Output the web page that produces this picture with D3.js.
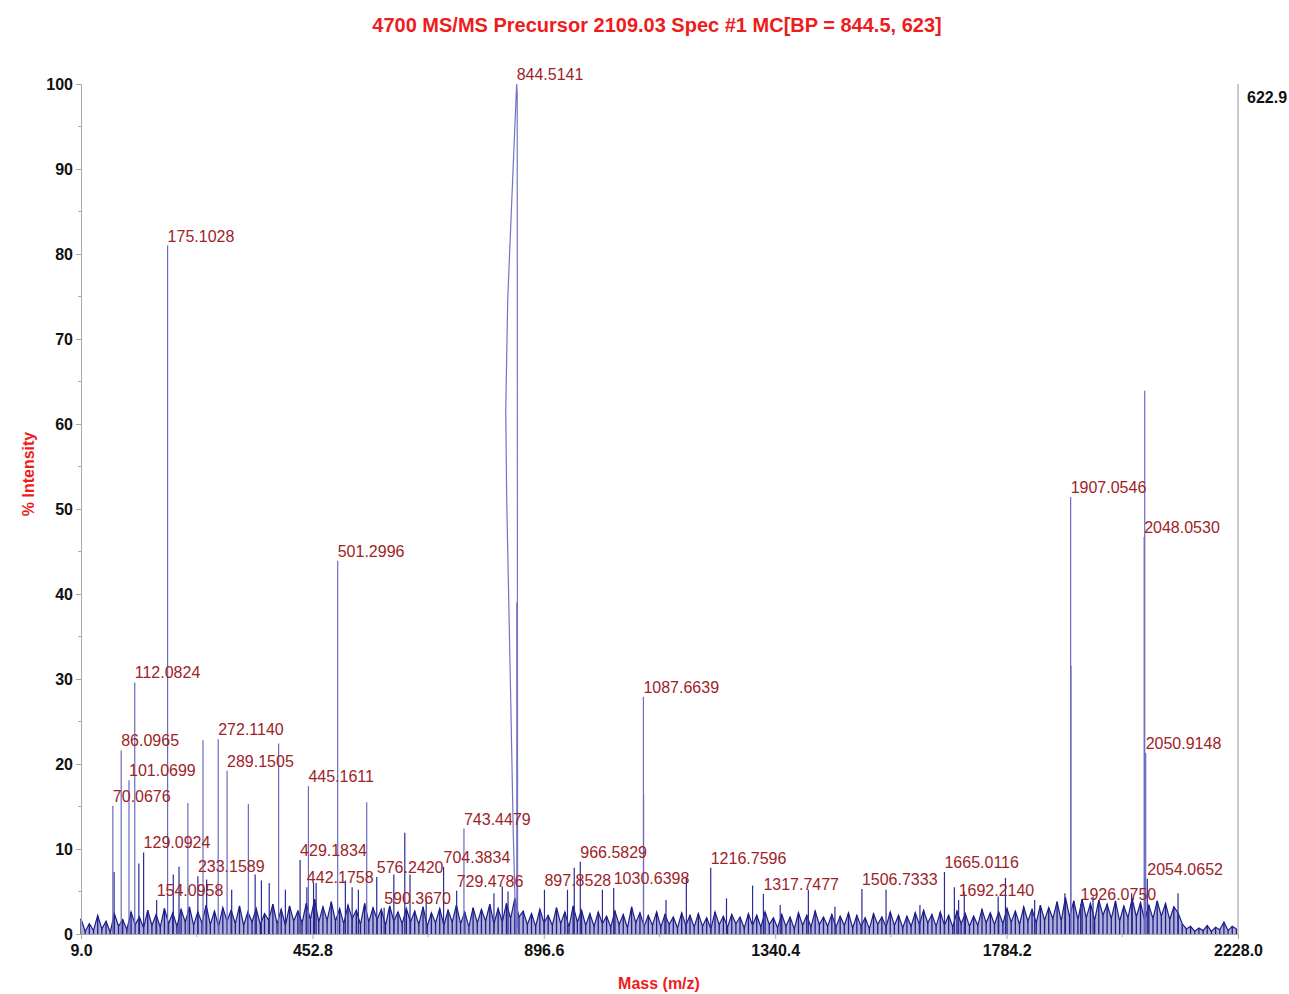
<!DOCTYPE html>
<html>
<head>
<meta charset="utf-8">
<script src="https://cdn.jsdelivr.net/npm/d3@7"></script>
<style>
  body { margin: 0; background: #fff; }
  svg { display: block; font-family: "Liberation Sans", Arial, sans-serif; }
</style>
</head>
<body>
<svg id="chart" width="1289" height="994"></svg>
<script>
// ---- data ----
const xTicks = [9.0, 452.8, 896.6, 1340.4, 1784.2, 2228.0];
const yTicks = [0, 10, 20, 30, 40, 50, 60, 70, 80, 90, 100];

// labelled peaks [m/z, % intensity]
const labeledPeaks = [
  [70.0676, 15.1], [86.0965, 21.6], [101.0699, 18.1], [112.0824, 29.6],
  [129.0924, 9.6], [154.0958, 4.0], [175.1028, 81.0], [233.1589, 6.8],
  [272.1140, 22.9], [289.1505, 19.2], [429.1834, 8.7], [442.1758, 5.5],
  [445.1611, 17.4], [501.2996, 43.9], [576.2420, 6.7], [590.3670, 3.1],
  [704.3834, 7.9], [729.4786, 5.1], [743.4479, 12.4], [844.5141, 100],
  [897.8528, 5.2], [966.5829, 8.5], [1030.6398, 5.4], [1087.6639, 27.9],
  [1216.7596, 7.8], [1317.7477, 4.7], [1506.7333, 5.3], [1665.0116, 7.3],
  [1692.2140, 4.0], [1907.0546, 51.4], [1926.0750, 3.5], [2048.0530, 46.7],
  [2050.9148, 21.3], [2054.0652, 6.5]
];

// unlabelled peaks [m/z, % intensity]
const minorPeaks = [
  [72.5, 7.3], [120, 8.3], [186, 7.0], [197, 7.9], [214, 15.4], [243, 22.8],
  [250, 6.4], [298, 5.2], [330, 15.3], [343, 7.0], [355, 6.3], [370, 6.0],
  [388, 22.4], [401, 5.2], [455, 6.0], [460, 6.0], [516, 6.3], [529, 5.5],
  [541, 5.2], [557, 15.5], [609, 7.0], [630, 11.9], [640, 7.0], [671, 4.0],
  [801, 4.8], [817, 5.6], [828, 5.0], [844.9, 39.0], [942, 5.2], [955, 7.8],
  [1009, 5.2], [1088.0, 16.5], [1131, 4.0], [1170, 6.6], [1247, 4.2],
  [1297, 5.7], [1350, 3.4], [1404, 5.2], [1455, 3.2], [1553, 5.2], [1618, 3.4],
  [1684, 5.5], [1703, 5.0], [1768, 4.4], [1782, 6.6], [1838, 4.0], [1896, 4.8],
  [1907.6, 31.6], [1950, 4.4], [2024, 4.8], [2049.1, 63.9], [2113, 4.8]
];

// saturated base peak outline [m/z, % intensity]
const basePeakProfile = [
  [842.8, 0.5], [838.0, 12.0], [833.2, 27.5], [825.5, 51.0], [823.6, 61.6],
  [827.4, 74.6], [835.0, 86.0], [844.5, 100], [845.6, 99.0], [846.0, 40.0],
  [846.4, 0.8]
];

// baseline noise, one value every 8 Da from m/z 9
const noiseStart = 9, noiseStep = 8;
const noise = [
  1.8,0.3,1.2,0.4,2.2,0.6,1.5,0.2,2.4,0.9,1.7,0.5,2.6,1.1,2.0,0.7,2.8,1.0,2.3,0.8,
  3.0,1.2,2.5,0.9,2.9,1.4,3.2,1.0,2.6,1.3,3.4,1.1,2.7,0.9,3.1,1.5,2.8,1.2,3.3,1.0,
  2.6,1.4,3.0,1.1,2.4,1.6,3.5,1.2,2.9,1.0,3.3,1.5,2.7,1.3,3.6,1.7,4.1,1.4,3.2,1.6,
  3.8,1.5,3.0,1.2,3.4,1.8,2.8,1.1,3.6,1.4,3.1,1.7,2.9,1.0,3.3,1.5,2.6,1.2,3.0,1.4,
  2.7,1.1,3.2,0.9,2.5,1.3,3.0,1.0,2.8,1.4,3.4,1.2,2.6,0.8,3.1,1.3,2.9,1.5,3.5,1.2,
  3.0,1.4,3.6,1.8,4.2,2.0,2.7,1.1,2.4,0.9,2.9,1.3,2.2,1.0,3.1,1.2,2.6,0.8,3.3,1.4,
  2.8,1.0,2.4,0.9,2.6,1.2,2.1,0.8,2.7,1.1,2.3,0.7,3.2,1.3,2.5,0.9,2.2,1.0,2.6,0.8,
  2.3,1.1,2.0,0.7,2.5,1.0,2.2,0.8,2.4,0.9,1.9,0.6,2.6,1.1,2.1,0.8,2.3,1.2,2.0,0.7,
  2.4,1.0,2.2,0.8,2.6,1.1,1.9,0.7,2.3,0.9,2.0,0.6,2.5,1.0,2.2,0.8,2.7,1.1,2.0,0.9,
  2.3,0.8,2.1,1.0,2.5,0.7,2.2,0.9,1.9,0.6,2.4,1.1,2.0,0.8,2.6,1.0,2.2,0.7,2.1,0.9,
  2.5,1.1,2.8,1.3,2.3,0.9,2.6,1.0,2.2,0.8,2.7,1.2,2.4,0.9,2.1,1.0,2.9,1.3,2.5,1.1,
  2.6,1.2,3.0,1.4,2.7,1.1,3.2,1.5,2.9,1.3,3.4,1.6,3.1,1.8,3.8,1.5,4.3,2.0,3.9,1.7,
  4.1,1.9,3.6,1.6,4.0,2.2,3.5,1.8,3.9,1.5,3.3,1.9,4.2,2.0,3.7,1.6,3.4,1.8,3.9,2.1,
  3.6,1.7,3.2,2.5,1.2,0.6,0.9,0.3,0.7,0.4,1.0,0.3,0.8,0.5,1.4,0.4,0.9,0.6
];

const title = "4700 MS/MS Precursor 2109.03 Spec #1 MC[BP = 844.5, 623]";
const maxCounts = "622.9";

// ---- layout ----
const svg = d3.select("#chart");
const margin = { left: 81, right: 51, top: 84, bottom: 60 };
const W = 1289, H = 994;
const x = d3.scaleLinear().domain([9, 2228]).range([margin.left, W - margin.right]);
const y = d3.scaleLinear().domain([0, 100]).range([H - margin.bottom, margin.top]);

const axisColor = "#a8a8a8";
const labelRed = "#9e2328";
const navy = "#1c1c8a";

svg.append("rect").attr("width", W).attr("height", H).attr("fill", "#fff");

// title
svg.append("text")
  .attr("x", 657).attr("y", 32)
  .attr("text-anchor", "middle")
  .attr("font-size", 20).attr("font-weight", "bold")
  .attr("fill", "#ee1c1c")
  .text(title);

// spectrum: noise band (area + sticks + trace)
const line = d3.line().x(d => x(d[0])).y(d => y(d[1]));
const noisePts = noise.map((v, i) => [noiseStart + i * noiseStep, v]);
svg.append("path")
  .datum(noisePts)
  .attr("d", d3.area().x(d => x(d[0])).y0(y(0)).y1(d => y(d[1])))
  .attr("fill", navy).attr("fill-opacity", 0.35);
svg.append("g")
  .selectAll("line")
  .data(noisePts)
  .join("line")
  .attr("x1", d => x(d[0])).attr("x2", d => x(d[0]))
  .attr("y1", y(0)).attr("y2", d => y(d[1]))
  .attr("stroke", navy).attr("stroke-width", 1.3);
svg.append("path")
  .datum(noisePts)
  .attr("d", line)
  .attr("fill", "none")
  .attr("stroke", navy)
  .attr("stroke-width", 1.2);

// sticks
const sticks = minorPeaks.concat(labeledPeaks.filter(d => d[0] !== 844.5141));
svg.append("g")
  .selectAll("line")
  .data(sticks)
  .join("line")
  .attr("x1", d => x(d[0])).attr("x2", d => x(d[0]))
  .attr("y1", y(0)).attr("y2", d => y(d[1]))
  .attr("stroke", d => d[1] > 12 ? "#6a6ac0" : "#2a2a95")
  .attr("stroke-width", 1.2);

// base peak
svg.append("path")
  .datum(basePeakProfile)
  .attr("d", line)
  .attr("fill", "none")
  .attr("stroke", "#7373c4")
  .attr("stroke-width", 1.2);

// axes
const xAxis = svg.append("g")
  .attr("transform", `translate(0,${y(0)})`)
  .call(d3.axisBottom(x).tickValues(xTicks).tickFormat(d3.format(".1f")).tickSize(5));
const yAxis = svg.append("g")
  .attr("transform", `translate(${x(9)},0)`)
  .call(d3.axisLeft(y).tickValues(yTicks).tickSize(5).tickPadding(3));

[xAxis, yAxis].forEach(g => {
  g.select(".domain").attr("stroke", axisColor);
  g.selectAll(".tick line").attr("stroke", axisColor);
  g.selectAll(".tick text")
    .attr("font-size", 16).attr("font-weight", "bold")
    .attr("fill", "#111")
    .attr("font-family", "Liberation Sans, Arial, sans-serif");
});
xAxis.selectAll(".tick text").attr("dy", "0.9em");

// minor ticks
const xMinor = d3.pairs(xTicks).map(p => (p[0] + p[1]) / 2);
svg.append("g").selectAll("line").data(xMinor).join("line")
  .attr("x1", d => x(d)).attr("x2", d => x(d))
  .attr("y1", y(0)).attr("y2", y(0) + 3)
  .attr("stroke", axisColor);
const yMinor = d3.pairs(yTicks).map(p => (p[0] + p[1]) / 2);
svg.append("g").selectAll("line").data(yMinor).join("line")
  .attr("x1", x(9) - 3).attr("x2", x(9))
  .attr("y1", d => y(d)).attr("y2", d => y(d))
  .attr("stroke", axisColor);

// right-hand scale line
svg.append("line")
  .attr("x1", x(2228)).attr("x2", x(2228))
  .attr("y1", y(100)).attr("y2", y(0))
  .attr("stroke", "#b8b8b8").attr("stroke-width", 1.5);
svg.append("text")
  .attr("x", x(2228) + 9).attr("y", y(100) + 19)
  .attr("font-size", 16).attr("font-weight", "bold").attr("fill", "#111")
  .text(maxCounts);

// peak labels
svg.append("g")
  .selectAll("text")
  .data(labeledPeaks)
  .join("text")
  .attr("x", d => x(d[0]))
  .attr("y", d => y(d[1]) - 4)
  .attr("font-size", 16)
  .attr("fill", labelRed)
  .text(d => d[0].toFixed(4));

// axis titles
svg.append("text")
  .attr("x", 659).attr("y", 989)
  .attr("text-anchor", "middle")
  .attr("font-size", 16).attr("font-weight", "bold").attr("fill", "#ee1c1c")
  .text("Mass (m/z)");
svg.append("text")
  .attr("transform", "translate(34,474) rotate(-90)")
  .attr("text-anchor", "middle")
  .attr("font-size", 16).attr("font-weight", "bold").attr("fill", "#ee1c1c")
  .text("% Intensity");
</script>
</body>
</html>
